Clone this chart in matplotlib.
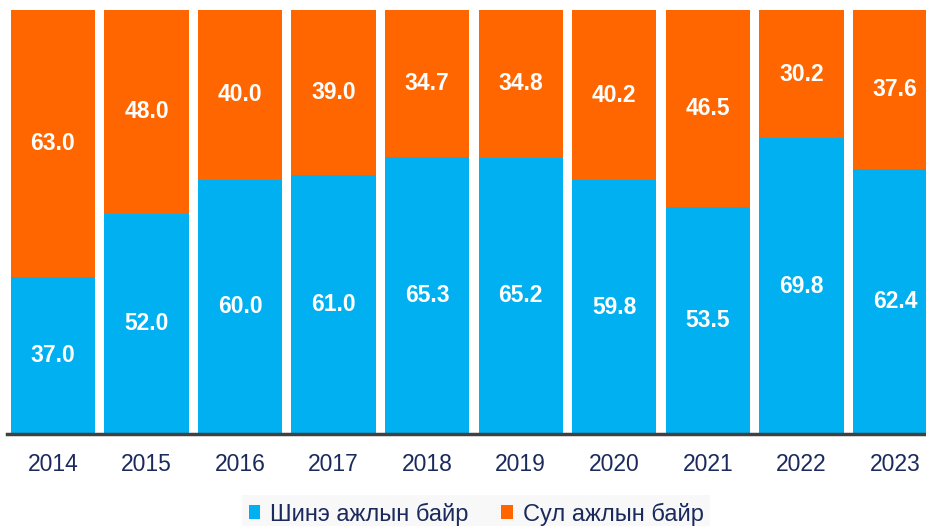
import matplotlib.pyplot as plt
from matplotlib.patches import Patch

years = ["2014", "2015", "2016", "2017", "2018", "2019", "2020", "2021", "2022", "2023"]
new_jobs = [37.0, 52.0, 60.0, 61.0, 65.3, 65.2, 59.8, 53.5, 69.8, 62.4]
vacant_jobs = [63.0, 48.0, 40.0, 39.0, 34.7, 34.8, 40.2, 46.5, 30.2, 37.6]
labels = ["Шинэ ажлын байр", "Сул ажлын байр"]

blue = "#00B0F0"
orange = "#FF6600"
navy = "#1B2A5C"

plt.rcParams['font.family'] = ['Liberation Sans', 'DejaVu Sans']

fig = plt.figure(figsize=(9.26, 5.26), dpi=100)
ax = fig.add_axes([7 / 926, 92 / 526, 919 / 926, 424 / 526])

x = list(range(len(years)))
ax.bar(x, new_jobs, width=0.9, color=blue)
ax.bar(x, vacant_jobs, width=0.9, bottom=new_jobs, color=orange)

for i in range(len(years)):
    ax.text(x[i], new_jobs[i] / 2, "%.1f" % new_jobs[i], ha="center", va="center",
            color="white", fontsize=16.5, fontweight="bold")
    ax.text(x[i], new_jobs[i] + vacant_jobs[i] / 2, "%.1f" % vacant_jobs[i], ha="center",
            va="center", color="white", fontsize=16.5, fontweight="bold")

ax.set_xlim(-0.49, 9.33)
ax.set_ylim(0, 100)
ax.set_xticks(x)
ax.set_xticklabels(years, fontsize=16.5, color=navy)
ax.tick_params(axis="x", length=0, pad=14)
ax.set_yticks([])
for s in ["top", "right", "left"]:
    ax.spines[s].set_visible(False)
ax.spines["bottom"].set_color("#404040")
ax.spines["bottom"].set_linewidth(2.5)

handles = [Patch(facecolor=blue), Patch(facecolor=orange)]
leg = fig.legend(handles, labels, loc="center", bbox_to_anchor=(476 / 926, 12 / 526),
                 ncol=2, frameon=True, fontsize=17, handlelength=0.5, handleheight=0.5,
                 handletextpad=0.4, columnspacing=1.4, fancybox=False, borderpad=0.3)
leg.get_frame().set_facecolor("#F7F7F7")
leg.get_frame().set_edgecolor("none")
for t in leg.get_texts():
    t.set_color(navy)

fig.savefig("out.png", dpi=100)
